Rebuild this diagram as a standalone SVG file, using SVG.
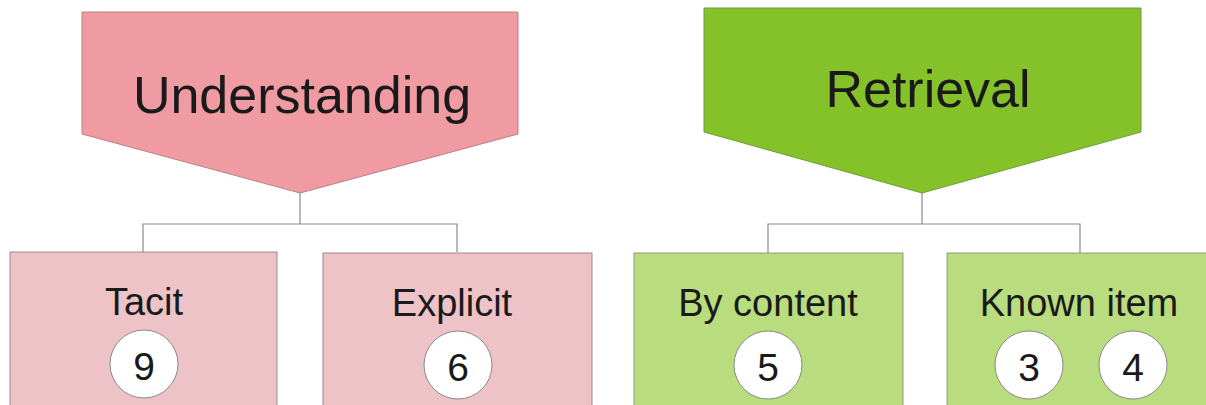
<svg xmlns="http://www.w3.org/2000/svg" width="1206" height="405" viewBox="0 0 1206 405">
<style>
text{font-family:"Liberation Sans",Arial,sans-serif;fill:#1a1a1a;text-anchor:middle}
.head{font-size:52px}
.sub{font-size:38px}
.num{font-size:39px}
.pinkH{fill:#F09BA1;stroke:#B98085;stroke-width:1}
.pinkB{fill:#EDC3C8;stroke:#A08A8C;stroke-width:1}
.greenH{fill:#85C229;stroke:#6E9E3A;stroke-width:1}
.greenB{fill:#B8DC7E;stroke:#8FA070;stroke-width:1}
.badge{fill:#fff;stroke:#8a8a8a;stroke-width:1}
.conn{fill:none;stroke:#8a8a8a;stroke-width:1.2}
</style>
<rect width="1206" height="405" fill="#fff"/>
<g id="connectors">
<path class="conn" d="M300,193 V224 M143,252 V224 H457 V252"/>
<path class="conn" d="M922,193 V224 M768,253 V224 H1080 V253"/>
</g>
<g id="understanding">
<polygon class="pinkH" points="82,12 518,12 518,134 300,193 82,134"/>
<text class="head" x="302" y="113">Understanding</text>
</g>
<g id="retrieval">
<polygon class="greenH" points="704,8 1141,8 1141,132 922,193 704,132"/>
<text class="head" x="928" y="107">Retrieval</text>
</g>
<g id="tacit">
<rect class="pinkB" x="10" y="252" width="267" height="160"/>
<text class="sub" x="144" y="315">Tacit</text>
<circle class="badge" cx="144" cy="364" r="34"/>
<text class="num" x="144" y="380">9</text>
</g>
<g id="explicit">
<rect class="pinkB" x="323" y="253" width="269" height="160"/>
<text class="sub" x="452" y="316">Explicit</text>
<circle class="badge" cx="458" cy="365" r="34"/>
<text class="num" x="458" y="381">6</text>
</g>
<g id="bycontent">
<rect class="greenB" x="634" y="253" width="269" height="160"/>
<text class="sub" x="768" y="316">By content</text>
<circle class="badge" cx="768" cy="365" r="34"/>
<text class="num" x="768" y="381">5</text>
</g>
<g id="knownitem">
<rect class="greenB" x="947" y="253" width="269" height="160"/>
<text class="sub" x="1079" y="316">Known item</text>
<circle class="badge" cx="1029" cy="365" r="34"/>
<text class="num" x="1029" y="381">3</text>
<circle class="badge" cx="1133" cy="365" r="34"/>
<text class="num" x="1133" y="381">4</text>
</g>
</svg>
